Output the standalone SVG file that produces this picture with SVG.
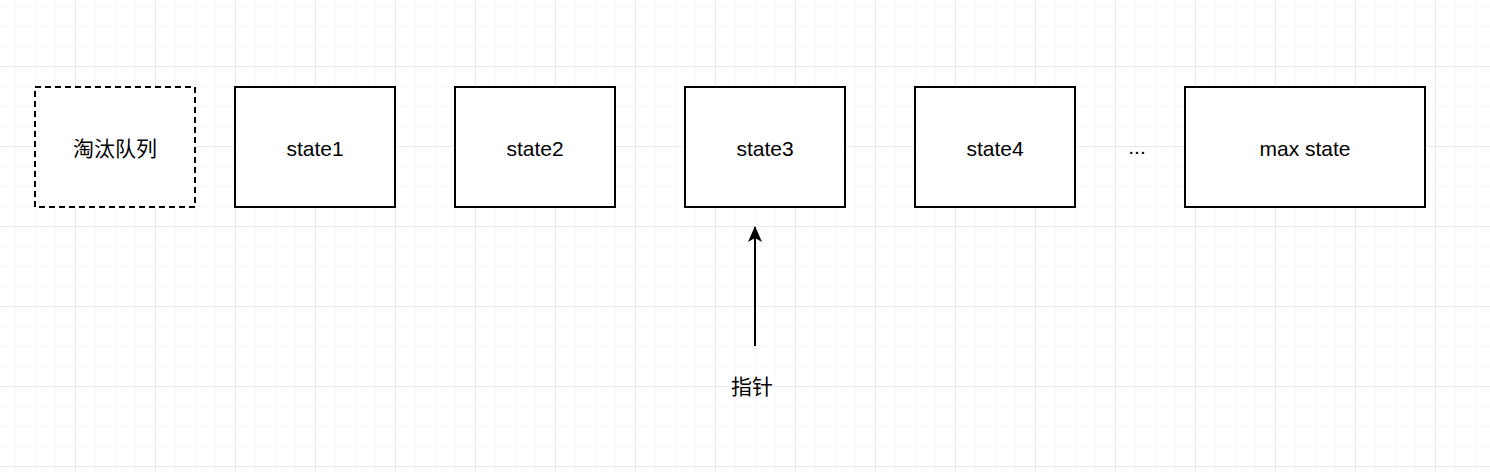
<svg xmlns="http://www.w3.org/2000/svg" width="1490" height="472" viewBox="0 0 1490 472">
<defs>
<pattern id="minor" x="15" y="6" width="20" height="20" patternUnits="userSpaceOnUse"><path d="M0 0H20M0 0V20" fill="none" stroke="#f0f0f0" stroke-width="1"/></pattern>
<pattern id="major" x="-5" y="-14" width="80" height="80" patternUnits="userSpaceOnUse"><path d="M0 0H80M0 0V80" fill="none" stroke="#dedede" stroke-width="1"/></pattern>
<marker id="arr" viewBox="0 0 16 14" refX="15" refY="7" markerWidth="16" markerHeight="14" markerUnits="userSpaceOnUse" orient="auto"><path d="M0 0L16 7L0 14L4 7Z" fill="#000"/></marker>
</defs>
<style>
.box{fill:#fff;stroke:#000;stroke-width:2}
.dash{stroke-dasharray:6 4}
text{font-family:"Liberation Sans","Noto Sans CJK SC",sans-serif;font-size:21px;fill:#000;text-anchor:middle;dominant-baseline:central}
</style>
<rect width="1490" height="472" fill="#fff"/>
<rect width="1490" height="472" fill="url(#minor)"/>
<rect width="1490" height="472" fill="url(#major)"/>
<g id="queue"><rect class="box dash" x="35" y="87" width="160" height="120"/><text x="115" y="148">淘汰队列</text></g>
<g id="state1"><rect class="box" x="235" y="87" width="160" height="120"/><text x="315" y="148">state1</text></g>
<g id="state2"><rect class="box" x="455" y="87" width="160" height="120"/><text x="535" y="148">state2</text></g>
<g id="state3"><rect class="box" x="685" y="87" width="160" height="120"/><text x="765" y="148">state3</text></g>
<g id="state4"><rect class="box" x="915" y="87" width="160" height="120"/><text x="995" y="148">state4</text></g>
<g id="dots"><text x="1137" y="146">...</text></g>
<g id="maxstate"><rect class="box" x="1185" y="87" width="240" height="120"/><text x="1305" y="148">max state</text></g>
<g id="pointer"><text x="752" y="386">指针</text></g>
<g id="connectors"><line x1="755" y1="346" x2="755" y2="227" stroke="#000" stroke-width="2" marker-end="url(#arr)"/></g>
</svg>
